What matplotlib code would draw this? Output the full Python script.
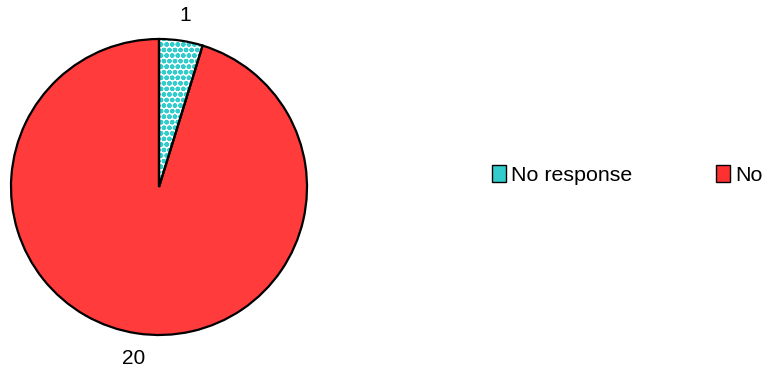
import matplotlib
matplotlib.use("Agg")
import matplotlib.pyplot as plt
from matplotlib.patches import Patch

plt.rcParams['font.family'] = ['Liberation Sans', 'DejaVu Sans']
plt.rcParams['hatch.linewidth'] = 1.6

categories = ["No response", "No"]
values = [1, 20]
face_colors = ["#FFFFFF", "#FF3B3B"]
hatch_colors = ["#33CCCC", "#FF3B3B"]
hatches = ["ooo", None]

fig = plt.figure(figsize=(7.75, 3.76), dpi=100)
ax = fig.add_axes([11 / 775, 41 / 376, 296 / 775, 296 / 376])

# Patterned fills (hatch colour comes from the edge colour)
fills, _ = ax.pie(values, startangle=90, counterclock=False, radius=1.0)
for w, fc, hc, h in zip(fills, face_colors, hatch_colors, hatches):
    w.set_facecolor(fc)
    w.set_edgecolor(hc)
    w.set_hatch(h)
    w.set_linewidth(0)

# Black outlines and value labels on top
outlines, texts = ax.pie(values, startangle=90, counterclock=False, radius=1.0,
                         labels=[str(v) for v in values], labeldistance=1.17,
                         wedgeprops=dict(fill=False, edgecolor="black", linewidth=1.6),
                         textprops=dict(fontsize=15))
for t in texts:
    t.set_ha("center")
    t.set_va("center")

ax.set_xlim(-1, 1)
ax.set_ylim(-1, 1)
ax.set_aspect("equal")
ax.axis("off")

handles = [Patch(facecolor=fc, edgecolor="black", linewidth=1.0)
           for fc in ["#33CCCC", "#FF3030"]]
fig.legend(handles, categories, loc="center left", ncol=2, frameon=False,
           bbox_to_anchor=(492 / 775, 1 - 175 / 376), fontsize=15.4,
           handlelength=0.65, handleheight=0.85, handletextpad=0.25,
           columnspacing=3.9, borderpad=0, borderaxespad=0)

fig.savefig("out.png", dpi=100)
